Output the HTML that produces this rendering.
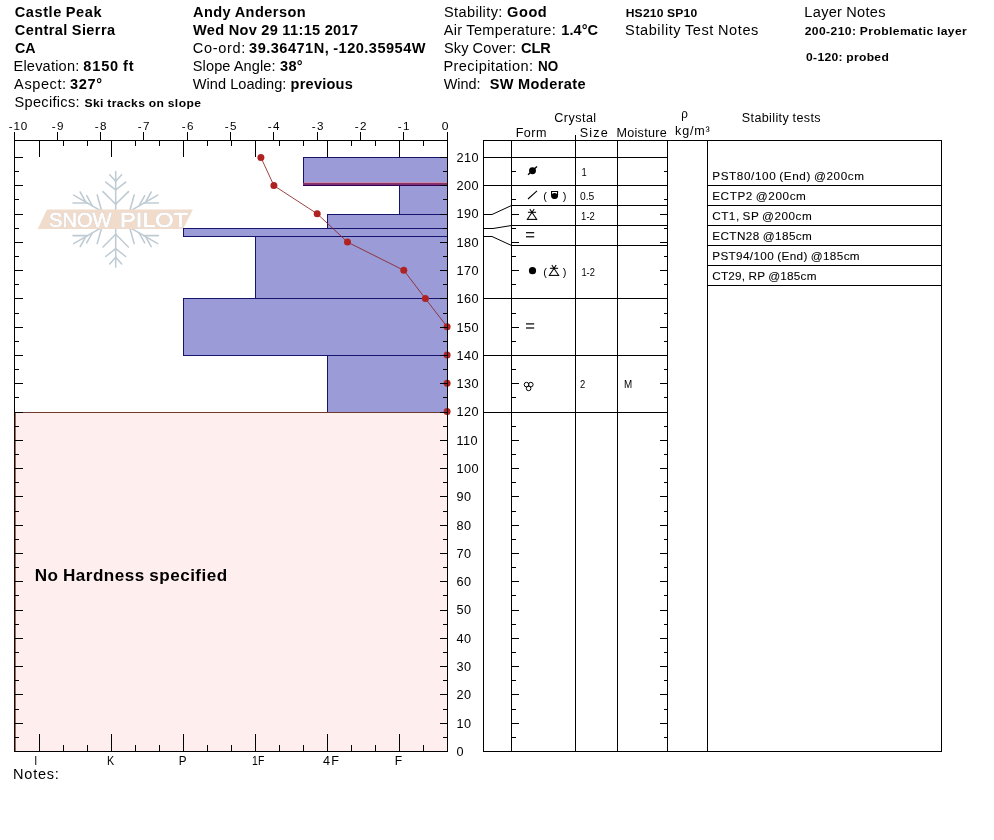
<!DOCTYPE html>
<html><head><meta charset="utf-8"><title>Snow Pilot Profile - Castle Peak</title>
<style>html,body{margin:0;padding:0;background:#fff}svg{display:block}text{font-family:"Liberation Sans",Arial,sans-serif;fill:#000;white-space:pre}.f14{font-size:14px}.f14b{font-size:14px;font-weight:bold}.f11b{font-size:11px;font-weight:bold}.f16b{font-size:16px;font-weight:bold}.f12{font-size:12px}.f11{font-size:11px}.f10{font-size:10px}.f10_5{font-size:10.5px}.f10_4{font-size:10.4px;stroke:#000;stroke-width:0.08px}</style></head><body>
<svg width="994" height="840" viewBox="0 0 994 840">
<rect width="994" height="840" fill="#fff"/>
<rect x="15" y="413" width="432" height="338" fill="#ffeeee"/>
<rect x="14" y="412" width="1.6" height="340" fill="#4a1a0c"/>
<g id="logo">
<g stroke="#bfcbd3" stroke-width="1.55" stroke-linecap="round" fill="none">
<line x1="115.7" y1="216.3" x2="115.7" y2="171.5"/>
<line x1="115.7" y1="204.3" x2="103.0" y2="191.6"/>
<line x1="115.7" y1="204.3" x2="128.4" y2="191.6"/>
<line x1="115.7" y1="189.9" x2="105.7" y2="182.1"/>
<line x1="115.7" y1="189.9" x2="125.7" y2="182.1"/>
<line x1="115.7" y1="181.3" x2="109.7" y2="174.7"/>
<line x1="115.7" y1="181.3" x2="121.7" y2="174.7"/>
<line x1="115.7" y1="222.3" x2="115.7" y2="267.1"/>
<line x1="115.7" y1="234.3" x2="103.0" y2="247.0"/>
<line x1="115.7" y1="234.3" x2="128.4" y2="247.0"/>
<line x1="115.7" y1="248.7" x2="105.7" y2="256.5"/>
<line x1="115.7" y1="248.7" x2="125.7" y2="256.5"/>
<line x1="115.7" y1="257.3" x2="109.7" y2="263.9"/>
<line x1="115.7" y1="257.3" x2="121.7" y2="263.9"/>
<line x1="113.1" y1="220.8" x2="73.7" y2="243.6"/>
<line x1="101.8" y1="227.3" x2="97.2" y2="243.6"/>
<line x1="92.3" y1="232.8" x2="86.7" y2="242.9"/>
<line x1="85.8" y1="236.6" x2="80.2" y2="246.6"/>
<line x1="87.5" y1="235.6" x2="73.0" y2="235.6"/>
<line x1="113.1" y1="217.8" x2="73.7" y2="195.1"/>
<line x1="101.8" y1="211.3" x2="97.2" y2="195.0"/>
<line x1="92.3" y1="205.8" x2="86.7" y2="195.7"/>
<line x1="85.8" y1="202.1" x2="80.2" y2="192.0"/>
<line x1="87.5" y1="203.0" x2="73.0" y2="203.0"/>
<line x1="118.3" y1="220.8" x2="157.7" y2="243.6"/>
<line x1="129.6" y1="227.3" x2="134.2" y2="243.6"/>
<line x1="139.1" y1="232.8" x2="144.7" y2="242.9"/>
<line x1="145.6" y1="236.6" x2="151.2" y2="246.6"/>
<line x1="143.9" y1="235.6" x2="158.4" y2="235.6"/>
<line x1="118.3" y1="217.8" x2="157.7" y2="195.1"/>
<line x1="129.6" y1="211.3" x2="134.2" y2="195.0"/>
<line x1="139.1" y1="205.8" x2="144.7" y2="195.7"/>
<line x1="145.6" y1="202.1" x2="151.2" y2="192.0"/>
<line x1="143.9" y1="203.0" x2="158.4" y2="203.0"/>
</g>
<polygon points="47,209.6 192.8,209.6 183,229 37.7,229" fill="#f1dccb"/>
<text y="227" style="font-size:21px;fill:#fff;stroke:#fff;stroke-width:0.9;filter:drop-shadow(0.6px 0.7px 0.25px #a9a9b4)"><tspan x="49" textLength="62.5" lengthAdjust="spacingAndGlyphs">SNOW</tspan> <tspan x="120" textLength="68" lengthAdjust="spacingAndGlyphs">PILOT</tspan></text>
</g>
<rect x="303.5" y="157.5" width="144" height="28" fill="#9b9bd8" stroke="#15156e" stroke-width="1"/>
<rect x="399.5" y="185.5" width="48" height="29" fill="#9b9bd8" stroke="#15156e" stroke-width="1"/>
<rect x="327.5" y="214.5" width="120" height="14" fill="#9b9bd8" stroke="#15156e" stroke-width="1"/>
<rect x="183.5" y="228.5" width="264" height="8" fill="#9b9bd8" stroke="#15156e" stroke-width="1"/>
<rect x="255.5" y="236.5" width="192" height="62" fill="#9b9bd8" stroke="#15156e" stroke-width="1"/>
<rect x="183.5" y="298.5" width="264" height="57" fill="#9b9bd8" stroke="#15156e" stroke-width="1"/>
<rect x="327.5" y="355.5" width="120" height="57" fill="#9b9bd8" stroke="#15156e" stroke-width="1"/>
<rect x="304" y="182" width="143" height="1" fill="#cc8cb4"/><rect x="303" y="183" width="144" height="1" fill="#8a3262"/><rect x="303" y="184" width="144" height="1" fill="#7e2e78"/><rect x="303" y="185" width="144" height="1" fill="#3a0050"/>
<rect x="14" y="412" width="433" height="1" fill="#6e3a2e"/>
<polyline fill="none" stroke="#8a2222" stroke-width="0.85" points="260.9,157.4 273.9,185.6 317.2,213.8 347.5,242.1 403.8,270.3 425.4,298.6 447.1,326.8"/>
<circle cx="260.9" cy="157.4" r="3.5" fill="#b02222"/>
<circle cx="273.9" cy="185.6" r="3.5" fill="#b02222"/>
<circle cx="317.2" cy="213.8" r="3.5" fill="#b02222"/>
<circle cx="347.5" cy="242.1" r="3.5" fill="#b02222"/>
<circle cx="403.8" cy="270.3" r="3.5" fill="#b02222"/>
<circle cx="425.4" cy="298.6" r="3.5" fill="#b02222"/>
<circle cx="447.1" cy="326.8" r="3.5" fill="#b02222"/>
<circle cx="447.1" cy="355.1" r="3.5" fill="#b02222"/>
<circle cx="447.1" cy="383.3" r="3.5" fill="#b02222"/>
<circle cx="447.1" cy="411.6" r="3.5" fill="#b02222"/>
<g fill="#000">
<rect x="14" y="140" width="1" height="272"/>
<rect x="14" y="412" width="1" height="340" fill="#1a0500"/>
<rect x="447" y="140" width="1" height="612"/>
<rect x="14" y="140" width="434" height="1"/>
<rect x="14" y="751" width="434" height="1"/>
<rect x="14" y="132" width="1" height="8"/>
<rect x="57" y="132" width="1" height="8"/>
<rect x="100" y="132" width="1" height="8"/>
<rect x="143" y="132" width="1" height="8"/>
<rect x="187" y="132" width="1" height="8"/>
<rect x="230" y="132" width="1" height="8"/>
<rect x="273" y="132" width="1" height="8"/>
<rect x="317" y="132" width="1" height="8"/>
<rect x="360" y="132" width="1" height="8"/>
<rect x="403" y="132" width="1" height="8"/>
<rect x="447" y="132" width="1" height="8"/>
<rect x="39" y="140" width="1" height="17"/>
<rect x="39" y="734" width="1" height="17"/>
<rect x="63" y="140" width="1" height="6"/>
<rect x="63" y="745" width="1" height="6"/>
<rect x="87" y="140" width="1" height="6"/>
<rect x="87" y="745" width="1" height="6"/>
<rect x="111" y="140" width="1" height="17"/>
<rect x="111" y="734" width="1" height="17"/>
<rect x="135" y="140" width="1" height="6"/>
<rect x="135" y="745" width="1" height="6"/>
<rect x="159" y="140" width="1" height="6"/>
<rect x="159" y="745" width="1" height="6"/>
<rect x="183" y="140" width="1" height="17"/>
<rect x="183" y="734" width="1" height="17"/>
<rect x="207" y="140" width="1" height="6"/>
<rect x="207" y="745" width="1" height="6"/>
<rect x="231" y="140" width="1" height="6"/>
<rect x="231" y="745" width="1" height="6"/>
<rect x="255" y="140" width="1" height="17"/>
<rect x="255" y="734" width="1" height="17"/>
<rect x="279" y="140" width="1" height="6"/>
<rect x="279" y="745" width="1" height="6"/>
<rect x="303" y="140" width="1" height="6"/>
<rect x="303" y="745" width="1" height="6"/>
<rect x="327" y="140" width="1" height="17"/>
<rect x="327" y="734" width="1" height="17"/>
<rect x="351" y="140" width="1" height="6"/>
<rect x="351" y="745" width="1" height="6"/>
<rect x="375" y="140" width="1" height="6"/>
<rect x="375" y="745" width="1" height="6"/>
<rect x="399" y="140" width="1" height="17"/>
<rect x="399" y="734" width="1" height="17"/>
<rect x="423" y="140" width="1" height="6"/>
<rect x="423" y="745" width="1" height="6"/>
<rect x="14" y="737" width="5" height="1"/>
<rect x="443" y="737" width="4" height="1"/>
<rect x="14" y="723" width="9" height="1"/>
<rect x="440" y="723" width="7" height="1"/>
<rect x="14" y="709" width="5" height="1"/>
<rect x="443" y="709" width="4" height="1"/>
<rect x="14" y="694" width="9" height="1"/>
<rect x="440" y="694" width="7" height="1"/>
<rect x="14" y="680" width="5" height="1"/>
<rect x="443" y="680" width="4" height="1"/>
<rect x="14" y="666" width="9" height="1"/>
<rect x="440" y="666" width="7" height="1"/>
<rect x="14" y="652" width="5" height="1"/>
<rect x="443" y="652" width="4" height="1"/>
<rect x="14" y="638" width="9" height="1"/>
<rect x="440" y="638" width="7" height="1"/>
<rect x="14" y="624" width="5" height="1"/>
<rect x="443" y="624" width="4" height="1"/>
<rect x="14" y="610" width="9" height="1"/>
<rect x="440" y="610" width="7" height="1"/>
<rect x="14" y="595" width="5" height="1"/>
<rect x="443" y="595" width="4" height="1"/>
<rect x="14" y="581" width="9" height="1"/>
<rect x="440" y="581" width="7" height="1"/>
<rect x="14" y="567" width="5" height="1"/>
<rect x="443" y="567" width="4" height="1"/>
<rect x="14" y="553" width="9" height="1"/>
<rect x="440" y="553" width="7" height="1"/>
<rect x="14" y="539" width="5" height="1"/>
<rect x="443" y="539" width="4" height="1"/>
<rect x="14" y="525" width="9" height="1"/>
<rect x="440" y="525" width="7" height="1"/>
<rect x="14" y="511" width="5" height="1"/>
<rect x="443" y="511" width="4" height="1"/>
<rect x="14" y="496" width="9" height="1"/>
<rect x="440" y="496" width="7" height="1"/>
<rect x="14" y="482" width="5" height="1"/>
<rect x="443" y="482" width="4" height="1"/>
<rect x="14" y="468" width="9" height="1"/>
<rect x="440" y="468" width="7" height="1"/>
<rect x="14" y="454" width="5" height="1"/>
<rect x="443" y="454" width="4" height="1"/>
<rect x="14" y="440" width="9" height="1"/>
<rect x="440" y="440" width="7" height="1"/>
<rect x="14" y="426" width="5" height="1"/>
<rect x="443" y="426" width="4" height="1"/>
<rect x="14" y="412" width="9" height="1"/>
<rect x="440" y="412" width="7" height="1"/>
<rect x="14" y="397" width="5" height="1"/>
<rect x="443" y="397" width="4" height="1"/>
<rect x="14" y="383" width="9" height="1"/>
<rect x="440" y="383" width="7" height="1"/>
<rect x="14" y="369" width="5" height="1"/>
<rect x="443" y="369" width="4" height="1"/>
<rect x="14" y="355" width="9" height="1"/>
<rect x="440" y="355" width="7" height="1"/>
<rect x="14" y="341" width="5" height="1"/>
<rect x="443" y="341" width="4" height="1"/>
<rect x="14" y="327" width="9" height="1"/>
<rect x="440" y="327" width="7" height="1"/>
<rect x="14" y="313" width="5" height="1"/>
<rect x="443" y="313" width="4" height="1"/>
<rect x="14" y="298" width="9" height="1"/>
<rect x="440" y="298" width="7" height="1"/>
<rect x="14" y="284" width="5" height="1"/>
<rect x="443" y="284" width="4" height="1"/>
<rect x="14" y="270" width="9" height="1"/>
<rect x="440" y="270" width="7" height="1"/>
<rect x="14" y="256" width="5" height="1"/>
<rect x="443" y="256" width="4" height="1"/>
<rect x="14" y="242" width="9" height="1"/>
<rect x="440" y="242" width="7" height="1"/>
<rect x="14" y="228" width="5" height="1"/>
<rect x="443" y="228" width="4" height="1"/>
<rect x="14" y="214" width="9" height="1"/>
<rect x="440" y="214" width="7" height="1"/>
<rect x="14" y="199" width="5" height="1"/>
<rect x="443" y="199" width="4" height="1"/>
<rect x="14" y="185" width="9" height="1"/>
<rect x="440" y="185" width="7" height="1"/>
<rect x="14" y="171" width="5" height="1"/>
<rect x="443" y="171" width="4" height="1"/>
<rect x="14" y="157" width="9" height="1"/>
<rect x="440" y="157" width="7" height="1"/>
</g>
<g fill="#000">
<rect x="483" y="140" width="1" height="612"/>
<rect x="941" y="140" width="1" height="612"/>
<rect x="483" y="140" width="459" height="1"/>
<rect x="483" y="751" width="459" height="1"/>
<rect x="511" y="140" width="1" height="612"/>
<rect x="575" y="140" width="1" height="612"/>
<rect x="617" y="140" width="1" height="612"/>
<rect x="667" y="140" width="1" height="612"/>
<rect x="707" y="140" width="1" height="612"/>
<rect x="575" y="135" width="1" height="5"/>
<rect x="483" y="157" width="185" height="1"/>
<rect x="483" y="185" width="185" height="1"/>
<rect x="483" y="298" width="185" height="1"/>
<rect x="483" y="355" width="185" height="1"/>
<rect x="483" y="412" width="185" height="1"/>
<rect x="511" y="205" width="157" height="1"/>
<rect x="511" y="225" width="157" height="1"/>
<rect x="511" y="245" width="157" height="1"/>
<rect x="707" y="185" width="235" height="1"/>
<rect x="707" y="205" width="235" height="1"/>
<rect x="707" y="225" width="235" height="1"/>
<rect x="707" y="245" width="235" height="1"/>
<rect x="707" y="265" width="235" height="1"/>
<rect x="707" y="285" width="235" height="1"/>
<rect x="511" y="737" width="5" height="1"/>
<rect x="664" y="737" width="3" height="1"/>
<rect x="511" y="723" width="8" height="1"/>
<rect x="660" y="723" width="7" height="1"/>
<rect x="511" y="709" width="5" height="1"/>
<rect x="664" y="709" width="3" height="1"/>
<rect x="511" y="694" width="8" height="1"/>
<rect x="660" y="694" width="7" height="1"/>
<rect x="511" y="680" width="5" height="1"/>
<rect x="664" y="680" width="3" height="1"/>
<rect x="511" y="666" width="8" height="1"/>
<rect x="660" y="666" width="7" height="1"/>
<rect x="511" y="652" width="5" height="1"/>
<rect x="664" y="652" width="3" height="1"/>
<rect x="511" y="638" width="8" height="1"/>
<rect x="660" y="638" width="7" height="1"/>
<rect x="511" y="624" width="5" height="1"/>
<rect x="664" y="624" width="3" height="1"/>
<rect x="511" y="610" width="8" height="1"/>
<rect x="660" y="610" width="7" height="1"/>
<rect x="511" y="595" width="5" height="1"/>
<rect x="664" y="595" width="3" height="1"/>
<rect x="511" y="581" width="8" height="1"/>
<rect x="660" y="581" width="7" height="1"/>
<rect x="511" y="567" width="5" height="1"/>
<rect x="664" y="567" width="3" height="1"/>
<rect x="511" y="553" width="8" height="1"/>
<rect x="660" y="553" width="7" height="1"/>
<rect x="511" y="539" width="5" height="1"/>
<rect x="664" y="539" width="3" height="1"/>
<rect x="511" y="525" width="8" height="1"/>
<rect x="660" y="525" width="7" height="1"/>
<rect x="511" y="511" width="5" height="1"/>
<rect x="664" y="511" width="3" height="1"/>
<rect x="511" y="496" width="8" height="1"/>
<rect x="660" y="496" width="7" height="1"/>
<rect x="511" y="482" width="5" height="1"/>
<rect x="664" y="482" width="3" height="1"/>
<rect x="511" y="468" width="8" height="1"/>
<rect x="660" y="468" width="7" height="1"/>
<rect x="511" y="454" width="5" height="1"/>
<rect x="664" y="454" width="3" height="1"/>
<rect x="511" y="440" width="8" height="1"/>
<rect x="660" y="440" width="7" height="1"/>
<rect x="511" y="426" width="5" height="1"/>
<rect x="664" y="426" width="3" height="1"/>
<rect x="511" y="397" width="5" height="1"/>
<rect x="664" y="397" width="3" height="1"/>
<rect x="511" y="383" width="8" height="1"/>
<rect x="660" y="383" width="7" height="1"/>
<rect x="511" y="369" width="5" height="1"/>
<rect x="664" y="369" width="3" height="1"/>
<rect x="511" y="341" width="5" height="1"/>
<rect x="664" y="341" width="3" height="1"/>
<rect x="511" y="327" width="8" height="1"/>
<rect x="660" y="327" width="7" height="1"/>
<rect x="511" y="313" width="5" height="1"/>
<rect x="664" y="313" width="3" height="1"/>
<rect x="511" y="284" width="5" height="1"/>
<rect x="664" y="284" width="3" height="1"/>
<rect x="511" y="270" width="8" height="1"/>
<rect x="660" y="270" width="7" height="1"/>
<rect x="511" y="256" width="5" height="1"/>
<rect x="664" y="256" width="3" height="1"/>
<rect x="511" y="242" width="8" height="1"/>
<rect x="660" y="242" width="7" height="1"/>
<rect x="511" y="228" width="5" height="1"/>
<rect x="664" y="228" width="3" height="1"/>
<rect x="511" y="214" width="8" height="1"/>
<rect x="660" y="214" width="7" height="1"/>
<rect x="511" y="199" width="5" height="1"/>
<rect x="664" y="199" width="3" height="1"/>
<rect x="511" y="171" width="5" height="1"/>
<rect x="664" y="171" width="3" height="1"/>
</g>
<g stroke="#000" stroke-width="1" fill="none">
<polyline points="483,214.5 492,214.5 511.5,205.5"/>
<polyline points="483,228.5 493,228.5 511.5,225.5"/>
<polyline points="483,236.5 492,236.5 511.5,245.5"/>
</g>
<circle cx="532.5" cy="170.7" r="3.45" fill="#000"/><line x1="528" y1="174.8" x2="537" y2="166.4" stroke="#000" stroke-width="1.3"/>
<line x1="528" y1="199" x2="537" y2="190.9" stroke="#000" stroke-width="1.1"/>
<text class="f11" x="543.2" y="199.9">(</text><text class="f11" x="562.7" y="199.9">)</text>
<path d="M551 190.9h7.1v4.3a3.55 3.55 0 0 1-7.1 0z" fill="#000"/><rect x="552.1" y="192" width="4.9" height="3" fill="#fff"/><circle cx="554.55" cy="196.0" r="2.95" fill="#000"/>
<g stroke="#000" stroke-width="1.05" fill="none" stroke-linecap="butt"><line x1="526.8" y1="219.4" x2="537.2" y2="219.4"/><line x1="527.1" y1="219.70000000000002" x2="534.2" y2="209.0"/><line x1="536.9" y1="219.70000000000002" x2="529.8" y2="209.0"/><line x1="527.9" y1="212.3" x2="536.1" y2="212.3"/></g>
<rect x="526" y="232.1" width="8.2" height="1.2" fill="#000"/><rect x="526" y="236.2" width="8.2" height="1.2" fill="#000"/>
<circle cx="532.5" cy="270.7" r="3.6" fill="#000"/>
<text class="f11" x="543.2" y="275.7">(</text><text class="f11" x="562.7" y="275.7">)</text>
<g stroke="#000" stroke-width="1.05" fill="none" stroke-linecap="butt"><line x1="548.8" y1="275.4" x2="559.2" y2="275.4"/><line x1="549.1" y1="275.7" x2="556.2" y2="265.0"/><line x1="558.9" y1="275.7" x2="551.8" y2="265.0"/><line x1="549.9" y1="268.29999999999995" x2="558.1" y2="268.29999999999995"/></g>
<rect x="526" y="323.29999999999995" width="8.2" height="1.2" fill="#000"/><rect x="526" y="327.4" width="8.2" height="1.2" fill="#000"/>
<g stroke="#000" stroke-width="1" fill="none"><circle cx="526.5" cy="384.6" r="2.3"/><circle cx="530.8" cy="384.6" r="2.3"/><circle cx="528.6" cy="388.4" r="2.3"/></g>
<text class="f14b" transform="translate(14.80 17) scale(1.040 1.04)" style="letter-spacing:0.537px;word-spacing:-0.537px">Castle Peak</text>
<text class="f14b" transform="translate(14.80 35) scale(1.040 1.04)" style="letter-spacing:0.391px;word-spacing:-0.391px">Central Sierra</text>
<text class="f14b" transform="translate(15.00 53) scale(1.019 1.04)" style="letter-spacing:0.000px;word-spacing:0.000px">CA</text>
<text class="f14" transform="translate(13.46 71) scale(1.040 1.04)" style="letter-spacing:0.206px;word-spacing:-0.206px">Elevation:</text>
<text class="f14b" transform="translate(83.30 71) scale(1.040 1.04)" style="letter-spacing:0.811px;word-spacing:-0.811px">8150 ft</text>
<text class="f14" transform="translate(14.10 89) scale(1.040 1.04)" style="letter-spacing:0.556px;word-spacing:-0.556px">Aspect:</text>
<text class="f14b" transform="translate(70.00 89) scale(1.040 1.04)" style="letter-spacing:0.611px;word-spacing:-0.611px">327°</text>
<text class="f14" transform="translate(14.50 107) scale(1.040 1.04)" style="letter-spacing:0.301px;word-spacing:-0.301px">Specifics:</text>
<text class="f11b" transform="translate(84.50 107) scale(1.100 1.0)" style="letter-spacing:0.384px;word-spacing:-0.384px">Ski tracks on slope</text>
<text class="f14b" transform="translate(193.00 17) scale(1.040 1.04)" style="letter-spacing:0.426px;word-spacing:-0.426px">Andy Anderson</text>
<text class="f14b" transform="translate(193.00 35) scale(1.040 1.04)" style="letter-spacing:0.367px;word-spacing:-0.367px">Wed Nov 29 11:15 2017</text>
<text class="f14" transform="translate(192.80 53) scale(1.040 1.04)" style="letter-spacing:0.621px;word-spacing:-0.621px">Co-ord:</text>
<text class="f14b" transform="translate(249.10 53) scale(1.040 1.04)" style="letter-spacing:0.468px;word-spacing:-0.468px">39.36471N, -120.35954W</text>
<text class="f14" transform="translate(192.80 71) scale(1.040 1.04)" style="letter-spacing:0.102px;word-spacing:-0.102px">Slope Angle:</text>
<text class="f14b" transform="translate(280.00 71) scale(1.040 1.04)" style="letter-spacing:0.291px;word-spacing:-0.291px">38°</text>
<text class="f14" transform="translate(192.80 89) scale(1.040 1.04)" style="letter-spacing:0.047px;word-spacing:-0.047px">Wind Loading:</text>
<text class="f14b" transform="translate(290.60 89) scale(1.040 1.04)" style="letter-spacing:0.205px;word-spacing:-0.205px">previous</text>
<text class="f14" transform="translate(443.90 17) scale(1.040 1.04)" style="letter-spacing:0.374px;word-spacing:-0.374px">Stability:</text>
<text class="f14b" transform="translate(507.00 17) scale(1.040 1.04)" style="letter-spacing:0.566px;word-spacing:-0.566px">Good</text>
<text class="f14" transform="translate(443.70 35) scale(1.040 1.04)" style="letter-spacing:0.330px;word-spacing:-0.330px">Air Temperature:</text>
<text class="f14b" transform="translate(561.30 35) scale(1.040 1.04)" style="letter-spacing:0.057px;word-spacing:-0.057px">1.4°C</text>
<text class="f14" transform="translate(443.90 53) scale(1.040 1.04)" style="letter-spacing:0.123px;word-spacing:-0.123px">Sky Cover:</text>
<text class="f14b" transform="translate(520.90 53) scale(1.040 1.04)" style="letter-spacing:0.000px;word-spacing:0.000px">CLR</text>
<text class="f14" transform="translate(443.46 71) scale(1.040 1.04)" style="letter-spacing:0.399px;word-spacing:-0.399px">Precipitation:</text>
<text class="f14b" transform="translate(538.00 71) scale(0.962 1.04)" style="letter-spacing:0.000px;word-spacing:0.000px">NO</text>
<text class="f14" transform="translate(443.70 89) scale(1.032 1.04)" style="letter-spacing:0.000px;word-spacing:0.000px">Wind:</text>
<text class="f14b" transform="translate(489.70 89) scale(1.040 1.04)" style="letter-spacing:0.401px;word-spacing:-0.401px">SW Moderate</text>
<text class="f11b" transform="translate(625.70 16.8) scale(1.100 1.0)" style="letter-spacing:0.178px;word-spacing:-0.178px">HS210 SP10</text>
<text class="f14" transform="translate(625.10 35) scale(1.040 1.04)" style="letter-spacing:0.554px;word-spacing:-0.554px">Stability Test Notes</text>
<text class="f14" transform="translate(804.36 17) scale(1.040 1.04)" style="letter-spacing:0.282px;word-spacing:-0.282px">Layer Notes</text>
<text class="f11b" transform="translate(804.70 35.2) scale(1.100 1.0)" style="letter-spacing:0.381px;word-spacing:-0.381px">200-210: Problematic layer</text>
<text class="f11b" transform="translate(806.00 61) scale(1.100 1.0)" style="letter-spacing:0.293px;word-spacing:-0.293px">0-120: probed</text>
<text class="f16b" transform="translate(34.63 581) scale(1.070 1.0)" style="letter-spacing:0.422px;word-spacing:-0.422px">No Hardness specified</text>
<text class="f14" transform="translate(13.06 779) scale(1.040 1.04)" style="letter-spacing:0.728px;word-spacing:-0.728px">Notes:</text>
<text class="f12" transform="translate(554.30 122) scale(1.050 1.04)" style="letter-spacing:0.428px;word-spacing:-0.428px">Crystal</text>
<text class="f12" transform="translate(515.70 137) scale(1.050 1.04)" style="letter-spacing:0.444px;word-spacing:-0.444px">Form</text>
<text class="f12" transform="translate(579.70 137) scale(1.050 1.04)" style="letter-spacing:1.126px;word-spacing:-1.126px">Size</text>
<text class="f12" transform="translate(616.40 137) scale(1.050 1.04)" style="letter-spacing:0.278px;word-spacing:-0.278px">Moisture</text>
<text class="f12" transform="translate(681.20 117.5) scale(0.971 1.04)" style="letter-spacing:0.000px;word-spacing:0.000px">ρ</text>
<text class="f12" transform="translate(675.10 134.7) scale(1.050 1.04)" style="letter-spacing:0.713px;word-spacing:-0.713px">kg/m³</text>
<text class="f12" transform="translate(741.80 122) scale(1.050 1.04)" style="letter-spacing:0.335px;word-spacing:-0.335px">Stability tests</text>
<text class="f10_4" transform="translate(712.20 179.8) scale(1.130 1.0)" style="letter-spacing:0.537px;word-spacing:-0.859px">PST80/100 (End) @200cm</text>
<text class="f10_4" transform="translate(712.20 199.8) scale(1.130 1.0)" style="letter-spacing:0.515px;word-spacing:-0.825px">ECTP2 @200cm</text>
<text class="f10_4" transform="translate(712.20 219.8) scale(1.130 1.0)" style="letter-spacing:0.447px;word-spacing:-0.715px">CT1, SP @200cm</text>
<text class="f10_4" transform="translate(712.20 239.8) scale(1.130 1.0)" style="letter-spacing:0.366px;word-spacing:-0.585px">ECTN28 @185cm</text>
<text class="f10_4" transform="translate(712.20 259.8) scale(1.130 1.0)" style="letter-spacing:0.318px;word-spacing:-0.509px">PST94/100 (End) @185cm</text>
<text class="f10_4" transform="translate(712.20 279.8) scale(1.130 1.0)" style="letter-spacing:0.211px;word-spacing:-0.337px">CT29, RP @185cm</text>
<text class="f10_5" transform="translate(581.40 176) scale(0.900 1.0)" style="letter-spacing:0.000px;word-spacing:0.000px">1</text>
<text class="f10_5" transform="translate(579.90 200) scale(0.983 1.0)" style="letter-spacing:0.000px;word-spacing:0.000px">0.5</text>
<text class="f10_5" transform="translate(581.10 219.8) scale(0.906 1.0)" style="letter-spacing:0.000px;word-spacing:0.000px">1-2</text>
<text class="f10_5" transform="translate(581.40 275.8) scale(0.887 1.0)" style="letter-spacing:0.000px;word-spacing:0.000px">1-2</text>
<text class="f10_5" transform="translate(580.00 388) scale(0.900 1.0)" style="letter-spacing:0.000px;word-spacing:0.000px">2</text>
<text class="f10_5" transform="translate(623.90 388) scale(0.938 1.0)" style="letter-spacing:0.000px;word-spacing:0.000px">M</text>
<text class="f11" transform="translate(8.70 130) scale(1.060 1.0)" style="letter-spacing:0.836px;word-spacing:-0.836px">-10</text>
<text class="f11" transform="translate(51.70 130) scale(1.060 1.0)" style="letter-spacing:1.375px;word-spacing:-1.375px">-9</text>
<text class="f11" transform="translate(94.70 130) scale(1.060 1.0)" style="letter-spacing:1.375px;word-spacing:-1.375px">-8</text>
<text class="f11" transform="translate(137.70 130) scale(1.060 1.0)" style="letter-spacing:1.375px;word-spacing:-1.375px">-7</text>
<text class="f11" transform="translate(181.70 130) scale(1.060 1.0)" style="letter-spacing:1.375px;word-spacing:-1.375px">-6</text>
<text class="f11" transform="translate(224.70 130) scale(1.060 1.0)" style="letter-spacing:1.375px;word-spacing:-1.375px">-5</text>
<text class="f11" transform="translate(267.70 130) scale(1.060 1.0)" style="letter-spacing:1.375px;word-spacing:-1.375px">-4</text>
<text class="f11" transform="translate(311.70 130) scale(1.060 1.0)" style="letter-spacing:1.375px;word-spacing:-1.375px">-3</text>
<text class="f11" transform="translate(354.70 130) scale(1.060 1.0)" style="letter-spacing:1.375px;word-spacing:-1.375px">-2</text>
<text class="f11" transform="translate(397.70 130) scale(1.060 1.0)" style="letter-spacing:1.375px;word-spacing:-1.375px">-1</text>
<text class="f11" transform="translate(441.70 130) scale(1.100 1.0)" style="letter-spacing:0.000px;word-spacing:0.000px">0</text>
<text class="f12" transform="translate(34.30 764.7) scale(0.900 1.04)" style="letter-spacing:0.000px;word-spacing:0.000px">I</text>
<text class="f12" transform="translate(107.00 764.7) scale(0.900 1.04)" style="letter-spacing:0.000px;word-spacing:0.000px">K</text>
<text class="f12" transform="translate(178.70 764.7) scale(0.975 1.04)" style="letter-spacing:0.000px;word-spacing:0.000px">P</text>
<text class="f12" transform="translate(252.10 764.7) scale(0.870 1.04)" style="letter-spacing:0.000px;word-spacing:0.000px">1F</text>
<text class="f12" transform="translate(323.00 764.7) scale(1.050 1.04)" style="letter-spacing:1.279px;word-spacing:-1.279px">4F</text>
<text class="f12" transform="translate(394.70 764.7) scale(1.014 1.04)" style="letter-spacing:0.000px;word-spacing:0.000px">F</text>
<text class="f12" transform="translate(456.4 755.8) scale(1.06 1)" style="letter-spacing:0.42px">0</text>
<text class="f12" transform="translate(456.4 727.5) scale(1.06 1)" style="letter-spacing:0.42px">10</text>
<text class="f12" transform="translate(456.4 699.2) scale(1.06 1)" style="letter-spacing:0.42px">20</text>
<text class="f12" transform="translate(456.4 670.9) scale(1.06 1)" style="letter-spacing:0.42px">30</text>
<text class="f12" transform="translate(456.4 642.7) scale(1.06 1)" style="letter-spacing:0.42px">40</text>
<text class="f12" transform="translate(456.4 614.4) scale(1.06 1)" style="letter-spacing:0.42px">50</text>
<text class="f12" transform="translate(456.4 586.1) scale(1.06 1)" style="letter-spacing:0.42px">60</text>
<text class="f12" transform="translate(456.4 557.8) scale(1.06 1)" style="letter-spacing:0.42px">70</text>
<text class="f12" transform="translate(456.4 529.5) scale(1.06 1)" style="letter-spacing:0.42px">80</text>
<text class="f12" transform="translate(456.4 501.2) scale(1.06 1)" style="letter-spacing:0.42px">90</text>
<text class="f12" transform="translate(456.4 472.9) scale(1.06 1)" style="letter-spacing:0.42px">100</text>
<text class="f12" transform="translate(456.4 444.7) scale(1.06 1)" style="letter-spacing:0.42px">110</text>
<text class="f12" transform="translate(456.4 416.4) scale(1.06 1)" style="letter-spacing:0.42px">120</text>
<text class="f12" transform="translate(456.4 388.1) scale(1.06 1)" style="letter-spacing:0.42px">130</text>
<text class="f12" transform="translate(456.4 359.8) scale(1.06 1)" style="letter-spacing:0.42px">140</text>
<text class="f12" transform="translate(456.4 331.5) scale(1.06 1)" style="letter-spacing:0.42px">150</text>
<text class="f12" transform="translate(456.4 303.2) scale(1.06 1)" style="letter-spacing:0.42px">160</text>
<text class="f12" transform="translate(456.4 274.9) scale(1.06 1)" style="letter-spacing:0.42px">170</text>
<text class="f12" transform="translate(456.4 246.7) scale(1.06 1)" style="letter-spacing:0.42px">180</text>
<text class="f12" transform="translate(456.4 218.4) scale(1.06 1)" style="letter-spacing:0.42px">190</text>
<text class="f12" transform="translate(456.4 190.1) scale(1.06 1)" style="letter-spacing:0.42px">200</text>
<text class="f12" transform="translate(456.4 161.8) scale(1.06 1)" style="letter-spacing:0.42px">210</text>
</svg></body></html>
